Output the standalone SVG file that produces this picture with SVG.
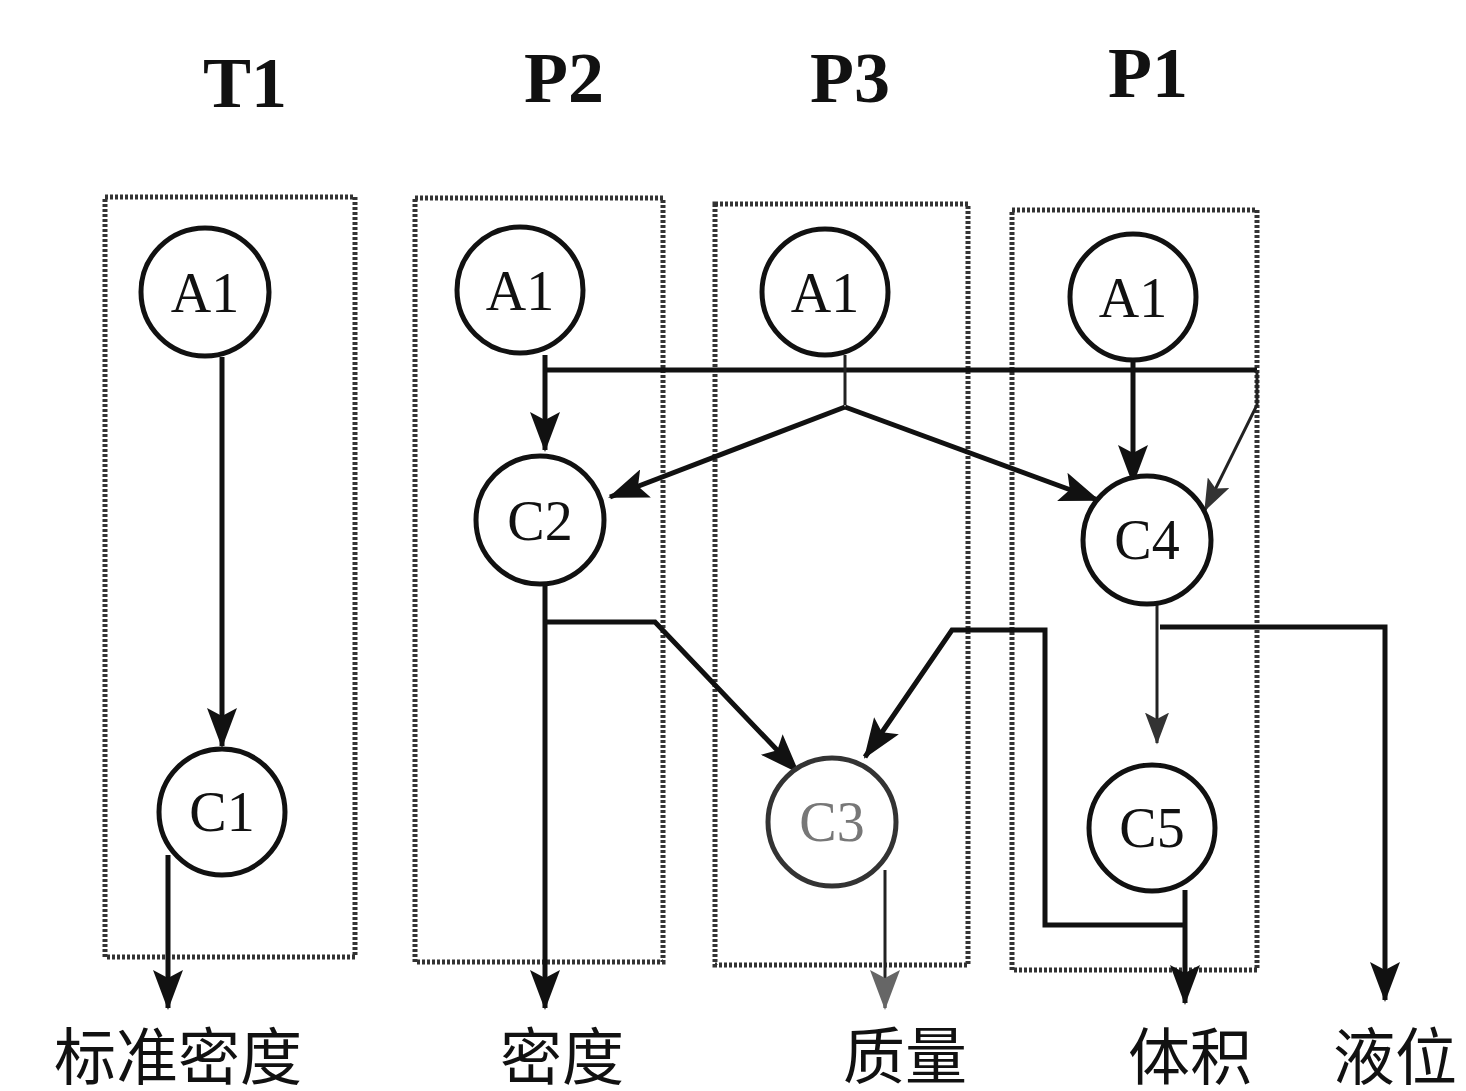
<svg xmlns="http://www.w3.org/2000/svg" width="1466" height="1091" viewBox="0 0 1466 1091">
<defs>
<marker id="ah" viewBox="0 0 40 30" refX="38" refY="15" markerWidth="40" markerHeight="30" markerUnits="userSpaceOnUse" orient="auto"><path d="M0,0 L40,15 L0,30 L8,15 z" fill="#111"/></marker>
<marker id="ahs" viewBox="0 0 40 30" refX="38" refY="15" markerWidth="32" markerHeight="24" markerUnits="userSpaceOnUse" orient="auto"><path d="M0,0 L40,15 L0,30 L8,15 z" fill="#333"/></marker>
<marker id="ahg" viewBox="0 0 40 30" refX="38" refY="15" markerWidth="40" markerHeight="30" markerUnits="userSpaceOnUse" orient="auto"><path d="M0,0 L40,15 L0,30 L8,15 z" fill="#666"/></marker>
<style>
.lane{fill:none;stroke:#333;stroke-width:5;stroke-dasharray:3 2}
.hd{font-family:"Liberation Serif",serif;font-weight:bold;font-size:72px;fill:#111;text-anchor:middle}
.nd circle{fill:#fff;stroke:#111;stroke-width:5}
.nd text{font-family:"Liberation Serif",serif;font-size:56px;fill:#111;text-anchor:middle}
.c{fill:none;stroke:#111;stroke-width:5}
.t{fill:none;stroke:#222;stroke-width:3}
.lb{font-family:"Liberation Serif","Noto Sans CJK SC",serif;font-size:62px;fill:#111;text-anchor:middle}
</style>
</defs>
<rect width="1466" height="1091" fill="#fff"/>
<g id="lanes">
<rect class="lane" x="105" y="197" width="250" height="760"/>
<rect class="lane" x="415" y="198" width="248" height="764"/>
<rect class="lane" x="715" y="204" width="253" height="761"/>
<rect class="lane" x="1012" y="210" width="245" height="760"/>
</g>
<g id="headers">
<text class="hd" x="245" y="107">T1</text>
<text class="hd" x="564" y="102">P2</text>
<text class="hd" x="850" y="102">P3</text>
<text class="hd" x="1148" y="97">P1</text>
</g>
<g id="connectors">
<line class="c" x1="222" y1="357" x2="222" y2="746" marker-end="url(#ah)"/>
<line class="c" x1="168" y1="855" x2="168" y2="1008" marker-end="url(#ah)"/>
<line class="c" x1="545" y1="370" x2="1257" y2="370"/>
<line class="c" x1="545" y1="355" x2="545" y2="450" marker-end="url(#ah)"/>
<polyline class="t" points="845,355 845,405"/>
<line class="c" x1="845" y1="407" x2="610" y2="497" marker-end="url(#ah)"/>
<line class="c" x1="845" y1="407" x2="1098" y2="500" marker-end="url(#ah)"/>
<line class="c" x1="1133" y1="360" x2="1133" y2="483" marker-end="url(#ah)"/>
<polyline class="t" points="1257,370 1257,405 1205,510" marker-end="url(#ahs)"/>
<line class="c" x1="545" y1="585" x2="545" y2="1008" marker-end="url(#ah)"/>
<polyline class="c" points="545,622 655,622 798,772" marker-end="url(#ah)"/>
<line class="t" x1="1157" y1="604" x2="1157" y2="743" marker-end="url(#ahs)"/>
<polyline class="c" points="1160,627 1385,627 1385,1000" marker-end="url(#ah)"/>
<polyline class="c" points="1185,890 1185,1003" marker-end="url(#ah)"/>
<polyline class="c" points="1185,925 1045,925 1045,630 952,630 865,757" marker-end="url(#ah)"/>
<polyline class="t" points="885,870 885,1008" stroke="#666" marker-end="url(#ahg)"/>
</g>
<g id="n-t1-a1" class="nd"><circle cx="205" cy="292" r="64"/><text x="205" y="312">A1</text></g>
<g id="n-c1" class="nd"><circle cx="222" cy="812" r="63"/><text x="222" y="831">C1</text></g>
<g id="n-p2-a1" class="nd"><circle cx="520" cy="290" r="63"/><text x="520" y="310">A1</text></g>
<g id="n-c2" class="nd"><circle cx="540" cy="520" r="64"/><text x="540" y="540">C2</text></g>
<g id="n-p3-a1" class="nd"><circle cx="825" cy="292" r="63"/><text x="825" y="312">A1</text></g>
<g id="n-c3" class="nd"><circle cx="832" cy="822" r="64" style="stroke:#333"/><text x="832" y="841" style="fill:#777">C3</text></g>
<g id="n-p1-a1" class="nd"><circle cx="1133" cy="297" r="63"/><text x="1133" y="317">A1</text></g>
<g id="n-c4" class="nd"><circle cx="1147" cy="540" r="64"/><text x="1147" y="559">C4</text></g>
<g id="n-c5" class="nd"><circle cx="1152" cy="828" r="63"/><text x="1152" y="847">C5</text></g>
<g id="labels">
<text class="lb" x="178" y="1080">标准密度</text>
<text class="lb" x="562" y="1080" fill="#555">密度</text>
<text class="lb" x="905" y="1079" fill="#666">质量</text>
<text class="lb" x="1190" y="1080">体积</text>
<text class="lb" x="1395" y="1080">液位</text>
</g>
</svg>
